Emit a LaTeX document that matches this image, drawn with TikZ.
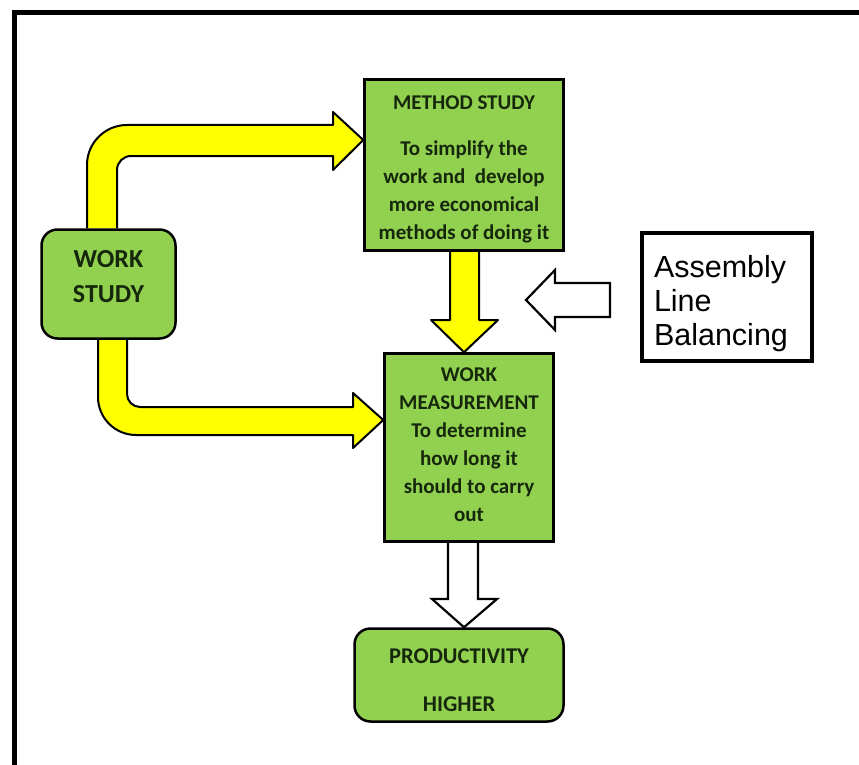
\documentclass[tikz,border=0pt]{standalone}
\usepackage{fontspec}
\newfontfamily\boxfont{Carlito}
\newfontfamily\labelfont{Liberation Sans}
\usetikzlibrary{backgrounds}
\definecolor{boxgreen}{RGB}{146,208,80}
\definecolor{boxtext}{RGB}{22,40,12}
\definecolor{arrowyellow}{RGB}{255,255,0}
\begin{document}
\begin{tikzpicture}[x=1pt,y=-1pt,
  greenbox/.style={draw=black, line width=2.5pt, fill=boxgreen, inner sep=0pt},
  roundbox/.style={greenbox, rounded corners=16pt},
  boxlabel/.style={text=boxtext, font=\boxfont\bfseries\fontsize{21}{28}\selectfont,
    align=center, inner sep=0pt},
  yellowarrow/.style={draw=black, line width=2pt, fill=arrowyellow, line join=round},
  whitearrow/.style={draw=black, line width=2.2pt, fill=white, line join=miter},
  frameline/.style={line width=5pt, draw=black}]

\useasboundingbox (0,0) rectangle (859,765);

% outer frame
\draw[frameline] (14.5,765) -- (14.5,13) -- (859,13);

% boxes
\node[roundbox, minimum width=134pt, minimum height=109pt] (ws) at (108.5,284) {};
\node[boxlabel, font=\boxfont\bfseries\fontsize{26}{35}\selectfont] (wstext)
  at ([yshift=7pt]ws.center) {WORK\\STUDY};

\node[greenbox, minimum width=199pt, minimum height=171pt] (ms) at (464,165) {};
\node[boxlabel] (mstext) at ([yshift=-4pt]ms.center)
  {METHOD STUDY\\[18pt]To simplify the\\work and\ \ develop\\more economical\\methods of doing it};

\node[greenbox, minimum width=169pt, minimum height=188pt] (wm) at (469,447.5) {};
\node[boxlabel] (wmtext) at ([yshift=3pt]wm.center)
  {WORK\\MEASUREMENT\\To determine\\how long it\\should to carry\\out};

\node[roundbox, minimum width=209pt, minimum height=93pt] (pr) at (459,675) {};
\node[boxlabel, font=\boxfont\bfseries\fontsize{22.5}{28}\selectfont] (prtext)
  at ([yshift=-5pt]pr.center) {PRODUCTIVITY\\[20pt]HIGHER};

\node[draw=black, line width=4pt, fill=white, inner sep=0pt,
      minimum width=170pt, minimum height=128pt] (al) at (727,297) {};
\node[text width=146pt, align=left, inner sep=0pt,
      font=\labelfont\fontsize{30.5}{34}\selectfont] (altext)
  at ([yshift=-7pt]al.center) {Assembly\\Line\\Balancing};

\begin{pgfonlayer}{background}
  \fill[white] (0,0) rectangle (859,765);
  % work study -> method study
  \draw[yellowarrow] (ws.north -| 87,0) -- (87,165)
    arc[start angle=180, end angle=270, radius=40] -- (333,125) -- (333,112)
    -- (ms.west |- 0,140) -- (333,170) -- (333,156) -- (131,156)
    arc[start angle=270, end angle=180, radius=14] -- (ws.north -| 117,0);
  % work study -> work measurement
  \draw[yellowarrow] (ws.south -| 98,0) -- (98,397)
    arc[start angle=180, end angle=90, radius=38] -- (353,435) -- (353,448)
    -- (wm.west |- 0,420) -- (353,393) -- (353,407) -- (140,407)
    arc[start angle=90, end angle=180, radius=13] -- (ws.south -| 127,0);
  % method study -> work measurement
  \draw[yellowarrow] (ms.south -| 450,0) -- (450,320) -- (431,320)
    -- (wm.north -| 464,0) -- (498,320) -- (479,320) -- (ms.south -| 479,0);
  % work measurement -> productivity
  \draw[whitearrow] (wm.south -| 448,0) -- (448,599) -- (432,599)
    -- (pr.north -| 464,0) -- (497,599) -- (478,599) -- (wm.south -| 478,0);
\end{pgfonlayer}

% assembly line balancing pointer
\coordinate (altip) at (526,300);
\draw[whitearrow] (610,283) -- (555,283) -- (555,270) -- (altip)
  -- (555,330) -- (555,317) -- (610,317) -- cycle;
\end{tikzpicture}
\end{document}
